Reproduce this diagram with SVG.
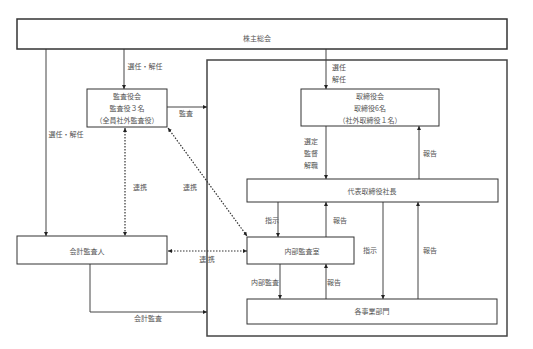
<svg xmlns="http://www.w3.org/2000/svg" width="533" height="349" viewBox="0 0 533 349">
<defs>
<marker id="ah" viewBox="0 0 10 10" refX="10" refY="5" markerWidth="4" markerHeight="4" orient="auto-start-reverse" markerUnits="userSpaceOnUse">
<path d="M0,0 L10,5 L0,10 z" fill="#222"/>
</marker>
<style>
.box{fill:#fff;stroke:#333;stroke-width:1}
.big{fill:none;stroke:#444;stroke-width:1.5}
.ln{fill:none;stroke:#444;stroke-width:1}
.dt{fill:none;stroke:#333;stroke-width:1.2;stroke-dasharray:1.5 1.5}
text{font-family:"Noto Sans CJK JP","Noto Sans CJK SC",sans-serif;font-size:7px;fill:#555;text-anchor:middle;dominant-baseline:central}
.l{text-anchor:start}
</style>
</defs>
<rect width="533" height="349" fill="#fff"/>
<rect class="big" x="207" y="60" width="300" height="276"/>
<g id="connectors">
<line class="ln" x1="46" y1="49" x2="46" y2="236" marker-end="url(#ah)"/>
<line class="ln" x1="124" y1="49" x2="124" y2="89" marker-end="url(#ah)"/>
<line class="ln" x1="326" y1="49" x2="326" y2="89" marker-end="url(#ah)"/>
<line class="ln" x1="167" y1="107" x2="207" y2="107" marker-end="url(#ah)"/>
<line class="dt" x1="125" y1="128" x2="125" y2="236" marker-start="url(#ah)" marker-end="url(#ah)"/>
<line class="dt" x1="168" y1="128" x2="247" y2="236" marker-start="url(#ah)" marker-end="url(#ah)"/>
<line class="dt" x1="168" y1="251" x2="247" y2="251" marker-start="url(#ah)" marker-end="url(#ah)"/>
<polyline class="ln" points="90,264 90,312 207,312" marker-end="url(#ah)"/>
<line class="ln" x1="326" y1="126" x2="326" y2="179" marker-end="url(#ah)"/>
<line class="ln" x1="419" y1="179" x2="419" y2="126" marker-end="url(#ah)"/>
<line class="ln" x1="278" y1="202" x2="278" y2="237" marker-end="url(#ah)"/>
<line class="ln" x1="326" y1="237" x2="326" y2="202" marker-end="url(#ah)"/>
<line class="ln" x1="280" y1="264" x2="280" y2="299" marker-end="url(#ah)"/>
<line class="ln" x1="326" y1="299" x2="326" y2="264" marker-end="url(#ah)"/>
<line class="ln" x1="383" y1="202" x2="383" y2="299" marker-end="url(#ah)"/>
<line class="ln" x1="418" y1="299" x2="418" y2="202" marker-end="url(#ah)"/>
</g>
<g id="labels">
<text x="145" y="66">選任・解任</text>
<text x="66" y="134">選任・解任</text>
<text x="186" y="113">監査</text>
<text x="339" y="67">選任</text>
<text x="339" y="79">解任</text>
<text x="311" y="141">選定</text>
<text x="311" y="153">監督</text>
<text x="311" y="165">解職</text>
<text x="430" y="153">報告</text>
<text x="140" y="187">連携</text>
<text x="190" y="187">連携</text>
<text x="207" y="259">連 携</text>
<text x="148" y="318">会計監査</text>
<text x="272" y="220">指示</text>
<text x="340" y="220">報告</text>
<text x="370" y="250">指示</text>
<text x="430" y="250">報告</text>
<text x="265" y="282">内部監査</text>
<text x="334" y="282">報告</text>
</g>
<g id="n-kabunushi"><rect class="box" x="17" y="19" width="490" height="30" style="stroke-width:1.5"/><text x="257" y="38">株主総会</text></g>
<g id="n-kansayaku"><rect class="box" x="87" y="89" width="80" height="38"/><text x="127" y="96">監査役会</text><text x="127" y="108">監査役３名</text><text x="127" y="120">（全員社外監査役）</text></g>
<g id="n-torishimari"><rect class="box" x="301" y="89" width="138" height="37"/><text x="370" y="96">取締役会</text><text x="370" y="108">取締役6名</text><text x="370" y="120">（社外取締役１名）</text></g>
<g id="n-shacho"><rect class="box" x="247" y="179" width="251" height="23"/><text x="372" y="191">代表取締役社長</text></g>
<g id="n-naibu"><rect class="box" x="247" y="237" width="107" height="27"/><text x="302" y="251">内部監査室</text></g>
<g id="n-kaikei"><rect class="box" x="17" y="236" width="150" height="28"/><text x="87" y="251">会計監査人</text></g>
<g id="n-jigyo"><rect class="box" x="247" y="299" width="250" height="25"/><text x="372" y="311">各事業部門</text></g>
</svg>
